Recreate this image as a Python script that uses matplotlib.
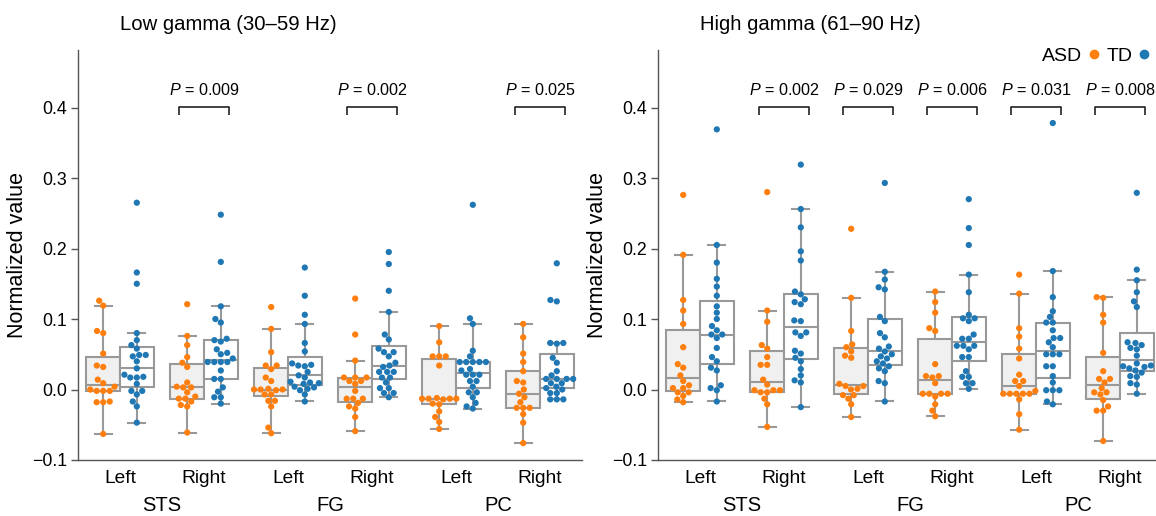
import pandas as pd
import matplotlib
matplotlib.use("Agg")
import matplotlib.pyplot as plt
import matplotlib.transforms as mtransforms
from matplotlib.lines import Line2D
import seaborn as sns

# low gamma (30-59 Hz)
low_sts_left_asd = [0.126, 0.119, 0.083, 0.080, 0.051, 0.034, 0.032, 0.014, 0.009, 0.004, 0.000, -0.002, -0.002, -0.002, -0.018, -0.018, -0.017, -0.063]
low_sts_left_td = [0.265, 0.166, 0.150, 0.080, 0.070, 0.063, 0.058, 0.049, 0.049, 0.047, 0.040, 0.030, 0.021, 0.018, 0.017, 0.017, 0.008, -0.002, -0.002, -0.007, -0.017, -0.024, -0.047]
low_sts_right_asd = [0.121, 0.076, 0.063, 0.046, 0.038, 0.032, 0.010, 0.004, 0.003, 0.003, -0.004, -0.010, -0.013, -0.013, -0.017, -0.022, -0.024, -0.061]
low_sts_right_td = [0.248, 0.181, 0.118, 0.100, 0.095, 0.072, 0.070, 0.068, 0.057, 0.052, 0.050, 0.044, 0.039, 0.039, 0.039, 0.039, 0.027, 0.015, 0.015, 0.003, -0.003, -0.011, -0.011, -0.020]
low_fg_left_asd = [0.117, 0.086, 0.053, 0.034, 0.034, 0.029, 0.017, 0.012, 0.001, 0.000, 0.000, 0.000, -0.001, -0.007, -0.007, -0.016, -0.016, -0.024, -0.054, -0.062]
low_fg_left_td = [0.173, 0.133, 0.106, 0.093, 0.066, 0.054, 0.037, 0.035, 0.034, 0.033, 0.025, 0.020, 0.017, 0.011, 0.010, 0.009, 0.008, 0.004, 0.003, 0.001, -0.001, -0.007, -0.017]
low_fg_right_asd = [0.129, 0.078, 0.041, 0.017, 0.017, 0.017, 0.012, 0.012, 0.008, -0.002, -0.013, -0.013, -0.013, -0.019, -0.024, -0.027, -0.039, -0.059]
low_fg_right_td = [0.195, 0.178, 0.140, 0.110, 0.078, 0.071, 0.058, 0.053, 0.053, 0.047, 0.038, 0.034, 0.032, 0.025, 0.025, 0.025, 0.017, 0.017, 0.010, 0.002, 0.002, -0.005, -0.005, -0.011]
low_pc_left_asd = [0.090, 0.067, 0.047, 0.047, 0.047, 0.034, -0.012, -0.013, -0.013, -0.013, -0.013, -0.014, -0.020, -0.021, -0.031, -0.039, -0.046, -0.056]
low_pc_left_td = [0.262, 0.101, 0.093, 0.055, 0.047, 0.039, 0.039, 0.039, 0.039, 0.039, 0.029, 0.027, 0.021, 0.021, 0.021, 0.012, 0.012, 0.004, -0.004, -0.004, -0.011, -0.019, -0.024, -0.027]
low_pc_right_asd = [0.093, 0.074, 0.051, 0.039, 0.026, 0.012, 0.010, 0.000, -0.006, -0.011, -0.018, -0.026, -0.026, -0.026, -0.035, -0.047, -0.076]
low_pc_right_td = [0.179, 0.127, 0.125, 0.066, 0.066, 0.065, 0.045, 0.038, 0.026, 0.020, 0.015, 0.015, 0.015, 0.015, 0.009, 0.009, 0.004, 0.002, 0.000, -0.005, -0.005, -0.014, -0.014, -0.014]

# high gamma (61-90 Hz)
high_sts_left_asd = [0.276, 0.191, 0.127, 0.112, 0.093, 0.060, 0.036, 0.031, 0.020, 0.012, 0.006, 0.002, 0.002, -0.004, -0.004, -0.009, -0.014, -0.018]
high_sts_left_td = [0.369, 0.205, 0.180, 0.157, 0.146, 0.133, 0.118, 0.109, 0.100, 0.090, 0.084, 0.078, 0.078, 0.073, 0.059, 0.046, 0.040, 0.031, 0.027, 0.006, 0.002, -0.001, -0.017]
high_sts_right_asd = [0.280, 0.112, 0.096, 0.063, 0.058, 0.046, 0.035, 0.035, 0.014, 0.007, -0.001, -0.001, -0.001, -0.004, -0.004, -0.013, -0.021, -0.053]
high_sts_right_td = [0.319, 0.256, 0.230, 0.196, 0.183, 0.139, 0.135, 0.128, 0.124, 0.121, 0.098, 0.097, 0.081, 0.081, 0.076, 0.055, 0.051, 0.045, 0.040, 0.029, 0.020, 0.013, 0.010, -0.025]
high_fg_left_asd = [0.228, 0.130, 0.083, 0.064, 0.060, 0.054, 0.048, 0.045, 0.008, 0.005, 0.005, 0.001, 0.000, -0.008, -0.008, -0.013, -0.021, -0.039]
high_fg_left_td = [0.293, 0.167, 0.156, 0.145, 0.142, 0.103, 0.097, 0.080, 0.074, 0.061, 0.058, 0.054, 0.050, 0.047, 0.044, 0.040, 0.037, 0.033, 0.030, 0.026, 0.012, 0.009, -0.017]
high_fg_right_asd = [0.139, 0.124, 0.109, 0.087, 0.083, 0.036, 0.019, 0.019, 0.017, 0.009, -0.006, -0.006, -0.006, -0.006, -0.010, -0.021, -0.030, -0.038]
high_fg_right_td = [0.270, 0.229, 0.205, 0.163, 0.138, 0.106, 0.101, 0.101, 0.097, 0.078, 0.072, 0.072, 0.062, 0.062, 0.062, 0.057, 0.046, 0.046, 0.026, 0.018, 0.018, 0.009, 0.009, 0.001]
high_pc_left_asd = [0.163, 0.136, 0.087, 0.075, 0.058, 0.044, 0.021, 0.012, 0.012, 0.005, -0.002, -0.006, -0.006, -0.006, -0.006, -0.006, -0.014, -0.035, -0.057]
high_pc_left_td = [0.378, 0.168, 0.131, 0.111, 0.103, 0.095, 0.095, 0.084, 0.073, 0.073, 0.067, 0.060, 0.050, 0.050, 0.050, 0.033, 0.033, 0.019, 0.010, -0.001, -0.001, -0.001, -0.017, -0.021]
high_pc_right_asd = [0.131, 0.130, 0.106, 0.095, 0.052, 0.026, 0.015, 0.015, 0.010, 0.002, -0.004, -0.004, -0.007, -0.015, -0.024, -0.030, -0.030, -0.073]
high_pc_right_td = [0.279, 0.170, 0.155, 0.138, 0.125, 0.117, 0.067, 0.066, 0.063, 0.059, 0.057, 0.048, 0.037, 0.034, 0.033, 0.032, 0.030, 0.027, 0.024, 0.019, 0.018, 0.009, 0.007, -0.006]

regions = ["STS", "FG", "PC"]
sides = ["Left", "Right"]
groups = ["ASD", "TD"]
low_pvals = {"STS Right": "0.009", "FG Right": "0.002", "PC Right": "0.025"}
high_pvals = {"STS Right": "0.002", "FG Left": "0.029", "FG Right": "0.006", "PC Left": "0.031", "PC Right": "0.008"}

low_data = [low_sts_left_asd, low_sts_left_td, low_sts_right_asd, low_sts_right_td,
            low_fg_left_asd, low_fg_left_td, low_fg_right_asd, low_fg_right_td,
            low_pc_left_asd, low_pc_left_td, low_pc_right_asd, low_pc_right_td]
high_data = [high_sts_left_asd, high_sts_left_td, high_sts_right_asd, high_sts_right_td,
             high_fg_left_asd, high_fg_left_td, high_fg_right_asd, high_fg_right_td,
             high_pc_left_asd, high_pc_left_td, high_pc_right_asd, high_pc_right_td]

cats = [r + " " + s for r in regions for s in sides]


def make_df(lists):
    rows = []
    k = 0
    for c in cats:
        for g in groups:
            for v in lists[k]:
                rows.append((c, g, v))
            k += 1
    return pd.DataFrame(rows, columns=["cat", "group", "value"])


plt.rcParams["font.family"] = ["Liberation Sans", "DejaVu Sans"]
plt.rcParams["mathtext.fontset"] = "custom"
plt.rcParams["mathtext.rm"] = "Liberation Sans"
plt.rcParams["mathtext.it"] = "Liberation Sans:italic"
orange = "#ff7f0e"
blue = "#1f77b4"
spine_col = "#555555"

fig = plt.figure(figsize=(11.56, 5.16), dpi=100)
ax1 = fig.add_axes([78 / 1156, 1 - 460 / 516, 504 / 1156, 410 / 516])
ax2 = fig.add_axes([658 / 1156, 1 - 460 / 516, 504 / 1156, 410 / 516])

panels = [(ax1, low_data, low_pvals, "Low gamma (30\u201359 Hz)"),
          (ax2, high_data, high_pvals, "High gamma (61\u201390 Hz)")]

for ax, lists, pvals, title in panels:
    df = make_df(lists)
    sns.boxplot(data=df, x="cat", y="value", hue="group", order=cats, hue_order=groups,
                palette={"ASD": "#f0f0f0", "TD": "white"}, saturation=1,
                linecolor="#999999", linewidth=1.5, showfliers=False, width=0.8,
                legend=False, ax=ax)
    sns.swarmplot(data=df, x="cat", y="value", hue="group", order=cats, hue_order=groups,
                  palette={"ASD": orange, "TD": blue}, dodge=True, size=4.5,
                  legend=False, ax=ax, zorder=3)

    ax.set_xlim(-0.5, 5.5)
    ax.set_ylim(-0.1, 0.4816)
    ax.set_yticks([-0.1, 0.0, 0.1, 0.2, 0.3, 0.4])
    ax.set_yticklabels(["\u22120.1", "0.0", "0.1", "0.2", "0.3", "0.4"])
    ax.set_xticks(range(6))
    ax.set_xticklabels(sides * 3)
    ax.set_xlabel("")
    ax.set_ylabel("Normalized value", fontsize=15.5, labelpad=3)
    ax.tick_params(axis="x", length=0, pad=7, labelsize=13.8)
    ax.tick_params(axis="y", length=5, width=1, color=spine_col, pad=3, labelsize=12.8)
    for s in ["top", "right"]:
        ax.spines[s].set_visible(False)
    for s in ["left", "bottom"]:
        ax.spines[s].set_color(spine_col)
        ax.spines[s].set_linewidth(1)

    trans = mtransforms.blended_transform_factory(ax.transData, ax.transAxes)
    ax.text(0.0, 1.061, title, transform=trans, ha="left", va="center", fontsize=14.6)
    for i, r in enumerate(regions):
        ax.text(2 * i + 0.5, -0.112, r, transform=trans, ha="center", va="center", fontsize=14.5)

    # significance brackets
    for c, p in pvals.items():
        xc = cats.index(c)
        ax.plot([xc - 0.3, xc - 0.3, xc + 0.3, xc + 0.3], [0.389, 0.401, 0.401, 0.389],
                color="#222222", lw=1.2, solid_capstyle="butt")
        ax.text(xc, 0.418, r"$\it{P}$ = " + p, ha="center", va="baseline", fontsize=11.6)

handles = [Line2D([], [], marker="o", ls="", color=orange, markersize=6),
           Line2D([], [], marker="o", ls="", color=blue, markersize=6)]
fig.legend(handles, groups, loc="upper right", bbox_to_anchor=(0.995, 0.909), ncol=2,
           markerfirst=False, frameon=False, fontsize=14, handlelength=0.6,
           handletextpad=0.32, columnspacing=0.32, borderpad=0, borderaxespad=0)

fig.savefig("out.png", dpi=100)
